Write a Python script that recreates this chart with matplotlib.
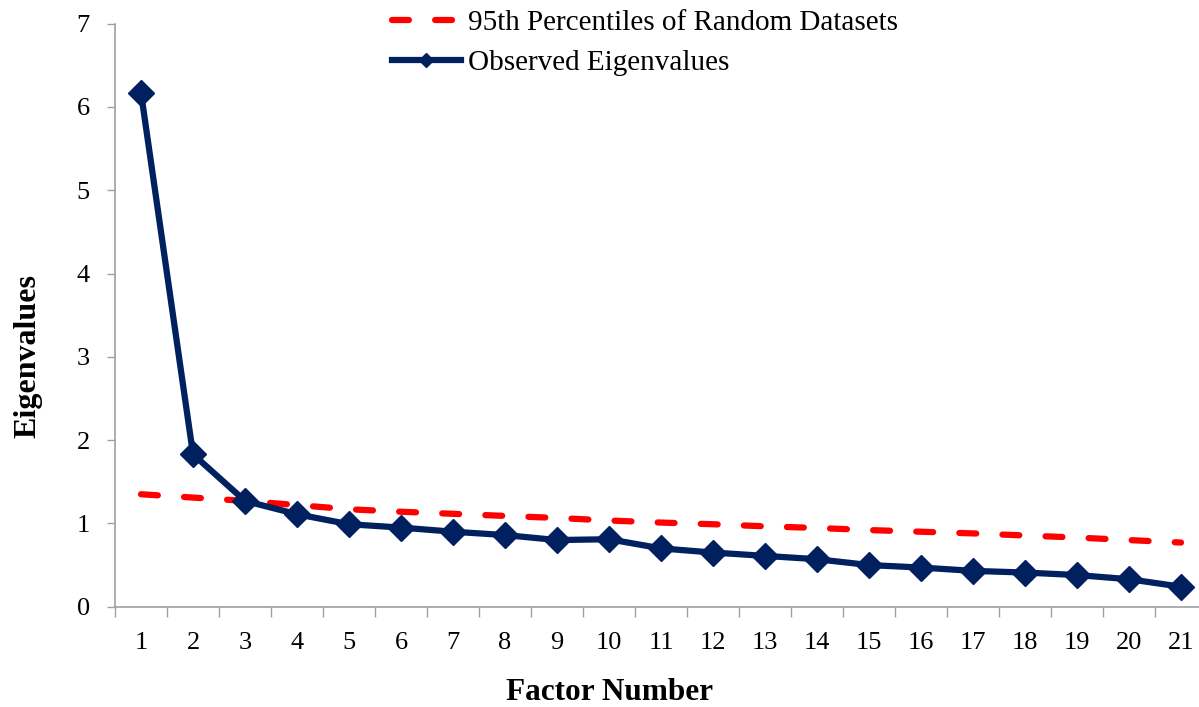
import matplotlib
matplotlib.use("Agg")
import matplotlib.pyplot as plt
from matplotlib.ticker import FixedLocator

# values
factors = list(range(1, 22))
observed = [6.17, 1.83, 1.27, 1.11, 0.99, 0.95, 0.90, 0.86, 0.80, 0.81, 0.70,
            0.65, 0.61, 0.57, 0.50, 0.47, 0.43, 0.41, 0.38, 0.33, 0.24]
random_95 = [1.35, 1.31, 1.27, 1.22, 1.17, 1.14, 1.115, 1.09, 1.065, 1.035, 1.01,
             0.99, 0.965, 0.945, 0.92, 0.90, 0.88, 0.855, 0.83, 0.80, 0.77]
y_ticks = [0, 1, 2, 3, 4, 5, 6, 7]

plt.rcParams["font.family"] = ["Liberation Serif", "DejaVu Serif"]

W, H = 1199, 707
fig = plt.figure(figsize=(W / 100, H / 100), dpi=100)
left, right = 115 / W, 1.0
bottom, top = 1 - 606.7 / H, 1 - 23.6 / H
ax = fig.add_axes([left, bottom, right - left, top - bottom])

red, = ax.plot(factors, random_95, color="#ff0000", lw=4.5, dashes=(2.7, 4.2),
               dash_capstyle="round", label="95th Percentiles of Random Datasets")
blue, = ax.plot(factors, observed, color="#002060", lw=4.5, marker="D", ms=13.5,
                mec="#002060", mfc="#002060", label="Observed Eigenvalues")

ax.set_xlim(0.5, 0.5 + (W - 115) / 52.0)
ax.set_ylim(0, 7)

ax.set_yticks(y_ticks)
ax.set_xticks(factors)
ax.xaxis.set_minor_locator(FixedLocator([i + 0.5 for i in range(0, 22)]))
ax.tick_params(axis="x", which="major", length=0, pad=18, labelsize=19)
ax.tick_params(axis="x", which="minor", length=7, width=1, color="#a0a0a0", direction="out")
ax.tick_params(axis="y", length=6, width=1, color="#a0a0a0", pad=12, labelsize=19)

for s in ["top", "right"]:
    ax.spines[s].set_visible(False)
for s in ["left", "bottom"]:
    ax.spines[s].set_color("#a0a0a0")
    ax.spines[s].set_linewidth(1.2)

ax.set_xlabel("Factor Number", fontsize=22.5, fontweight="bold")
ax.xaxis.set_label_coords(0.456, -0.122)
ax.set_ylabel("Eigenvalues", fontsize=23, fontweight="bold")
ax.yaxis.set_label_coords(-0.067, 0.43)

ax.legend(handles=[red, blue], loc="upper left", bbox_to_anchor=(392 / W, 1 - 10 / H),
          bbox_transform=fig.transFigure, frameon=False, fontsize=21,
          handlelength=2.35, handletextpad=0.24, labelspacing=0.46, borderaxespad=0,
          borderpad=0, markerscale=0.55)

fig.savefig("out.png", dpi=100)
